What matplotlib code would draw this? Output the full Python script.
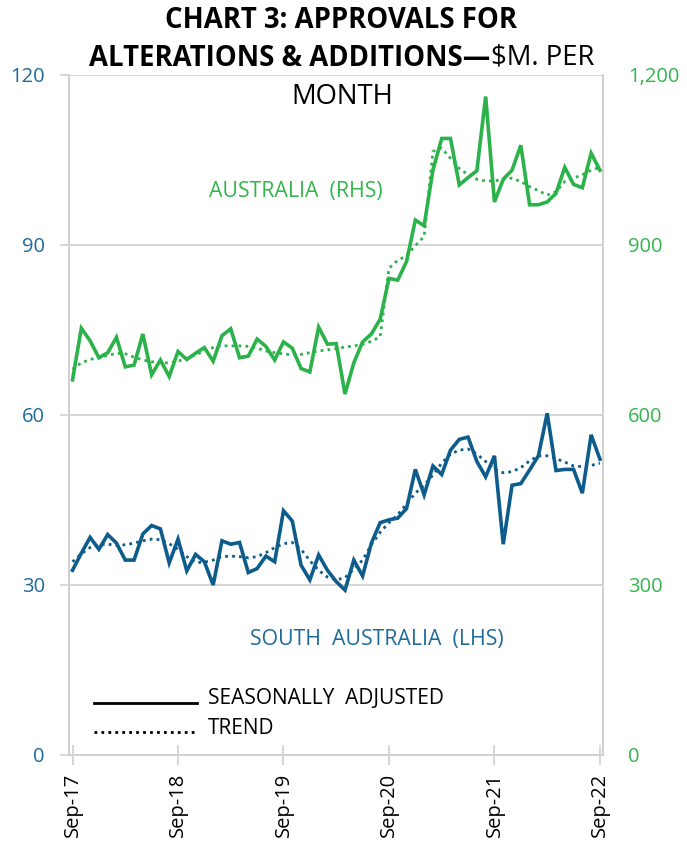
import numpy as np
import matplotlib.pyplot as plt
from matplotlib.lines import Line2D

plt.rcParams['font.family'] = ['Open Sans', 'DejaVu Sans']

# months Sep-17 .. Sep-22 (61 points)
months = np.arange(61)
tick_pos = [0, 12, 24, 36, 48, 60]
tick_labels = ['Sep-17', 'Sep-18', 'Sep-19', 'Sep-20', 'Sep-21', 'Sep-22']

# South Australia, $m (LHS)
sa_sa = [32.6, 35.6, 38.4, 36.3, 38.9, 37.4, 34.4, 34.4, 39.0, 40.5,
         39.9, 33.9, 38.1, 32.5, 35.4, 34.1, 30.0, 37.8, 37.2, 37.5,
         32.2, 32.9, 35.1, 34.1, 43.1, 41.3, 33.5, 30.9, 35.3, 32.6,
         30.6, 29.1, 34.4, 31.6, 37.4, 41.0, 41.5, 41.8, 43.5, 50.4,
         45.9, 51.0, 49.5, 53.8, 55.7, 56.1, 51.8, 49.1, 52.8, 37.2,
         47.6, 47.9, 50.3, 52.8, 60.3, 50.2, 50.4, 50.4, 46.2, 56.5,
         52.2]
sa_trend = [34.1, 35.5, 36.6, 37.1, 37.2, 37.0, 37.1, 37.4, 37.8, 38.1,
            38.0, 37.3, 36.3, 35.0, 34.0, 34.0, 34.4, 35.0, 35.1, 35.0,
            34.8, 35.0, 35.7, 36.6, 37.3, 37.5, 36.3, 34.3, 32.6, 31.4,
            30.9, 31.3, 32.8, 34.4, 37.1, 39.3, 41.0, 42.4, 44.3, 46.2,
            47.6, 49.4, 51.5, 53.1, 53.8, 54.0, 53.1, 51.8, 50.4, 49.8,
            50.0, 50.7, 51.9, 52.8, 52.8, 52.3, 51.7, 51.0, 50.9, 51.1,
            51.5]

# Australia, $m (RHS)
au_sa = [662, 753, 731, 701, 710, 737, 685, 688, 743, 671,
         697, 668, 712, 698, 709, 719, 695, 740, 752, 701,
         704, 734, 721, 697, 729, 718, 682, 676, 755, 725,
         726, 637, 692, 729, 743, 769, 841, 838, 871, 944,
         934, 1032, 1088, 1088, 1006, 1019, 1031, 1162, 976, 1016,
         1032, 1076, 971, 971, 976, 991, 1037, 1007, 1001, 1062,
         1032]
au_trend = [681, 692, 698, 702, 705, 709, 708, 702, 697, 694,
            692, 692, 695, 700, 706, 713, 719, 722, 722, 722,
            721, 718, 713, 710, 708, 706, 707, 710, 713, 715,
            717, 720, 722, 725, 730, 738, 859, 873, 881, 899,
            915, 1065, 1071, 1053, 1035, 1024, 1016, 1013, 1013, 1016,
            1018, 1012, 1003, 996, 988, 994, 1012, 1018, 1024, 1032,
            1037]

blue = '#0d5c8b'
blue_txt = '#1d6b9b'
green = '#2bb24a'
green_txt = '#33b54c'
grey = '#d0d0d0'
dots = (0, (1, 1.5))

W, H = 687, 850
fig = plt.figure(figsize=(W / 100, H / 100), dpi=100)
ax = fig.add_axes([69 / W, 1 - 755 / H, (603 - 69) / W, (755 - 75) / H])
ax2 = ax.twinx()

ax.plot(months, sa_sa, color=blue, lw=2.6, solid_joinstyle='miter', zorder=3)
ax.plot(months, sa_trend, color=blue, lw=2.0, linestyle=dots, zorder=3)
ax2.plot(months, au_sa, color=green, lw=2.6, solid_joinstyle='miter', zorder=3)
ax2.plot(months, au_trend, color=green, lw=2.0, linestyle=dots, zorder=3)

ax.set_xlim(-0.4, 60.35)
ax.set_ylim(0, 120)
ax2.set_ylim(0, 1200)
ax.set_yticks([0, 30, 60, 90, 120])
ax2.set_yticks([0, 300, 600, 900, 1200])
ax2.set_yticklabels(['0', '300', '600', '900', '1,200'])
ax.set_xticks(tick_pos)
ax.set_xticklabels(tick_labels, rotation=90, fontsize=14.5)

ax.grid(axis='y', color=grey, lw=1.2)
ax.set_axisbelow(True)
for a in (ax, ax2):
    a.spines['top'].set_visible(False)
    for s in ('left', 'right', 'bottom'):
        a.spines[s].set_color(grey)
        a.spines[s].set_linewidth(1.2)

ax.tick_params(axis='y', colors=grey, labelcolor=blue_txt, labelsize=14.5,
               length=6.5, width=1.2, pad=11)
ax.tick_params(axis='x', colors=grey, labelcolor='black', direction='inout',
               length=14, width=1.2, pad=6)
ax2.tick_params(axis='y', labelcolor=green_txt, labelsize=14.5, length=0, pad=18)

# title
fig.text(341 / W, 1 - 20 / H, 'CHART 3: APPROVALS FOR', ha='center', va='center',
         fontsize=19.8, fontweight='bold')
fig.text(490 / W, 1 - 58 / H, 'ALTERATIONS & ADDITIONS\u2014', ha='right', va='center',
         fontsize=19.8, fontweight='bold')
fig.text(491 / W, 1 - 58 / H, '$M. PER', ha='left', va='center', fontsize=19.8)
fig.text(342 / W, 1 - 97 / H, 'MONTH', ha='center', va='center', fontsize=19.8)

# series labels
fig.text(296 / W, 1 - 191 / H, 'AUSTRALIA  (RHS)', ha='center', va='center',
         fontsize=15.3, color=green_txt)
fig.text(377 / W, 1 - 639 / H, 'SOUTH  AUSTRALIA  (LHS)', ha='center', va='center',
         fontsize=15.3, color=blue_txt)

# legend
fig.add_artist(Line2D([94 / W, 197 / W], [1 - 703 / H] * 2, color='black', lw=2.0))
fig.add_artist(Line2D([94 / W, 197 / W], [1 - 732 / H] * 2, color='black', lw=2.0,
                      linestyle=dots))
fig.text(208 / W, 1 - 699 / H, 'SEASONALLY  ADJUSTED', ha='left', va='center', fontsize=15)
fig.text(208 / W, 1 - 729 / H, 'TREND', ha='left', va='center', fontsize=15)

fig.savefig('out.png', dpi=100)
